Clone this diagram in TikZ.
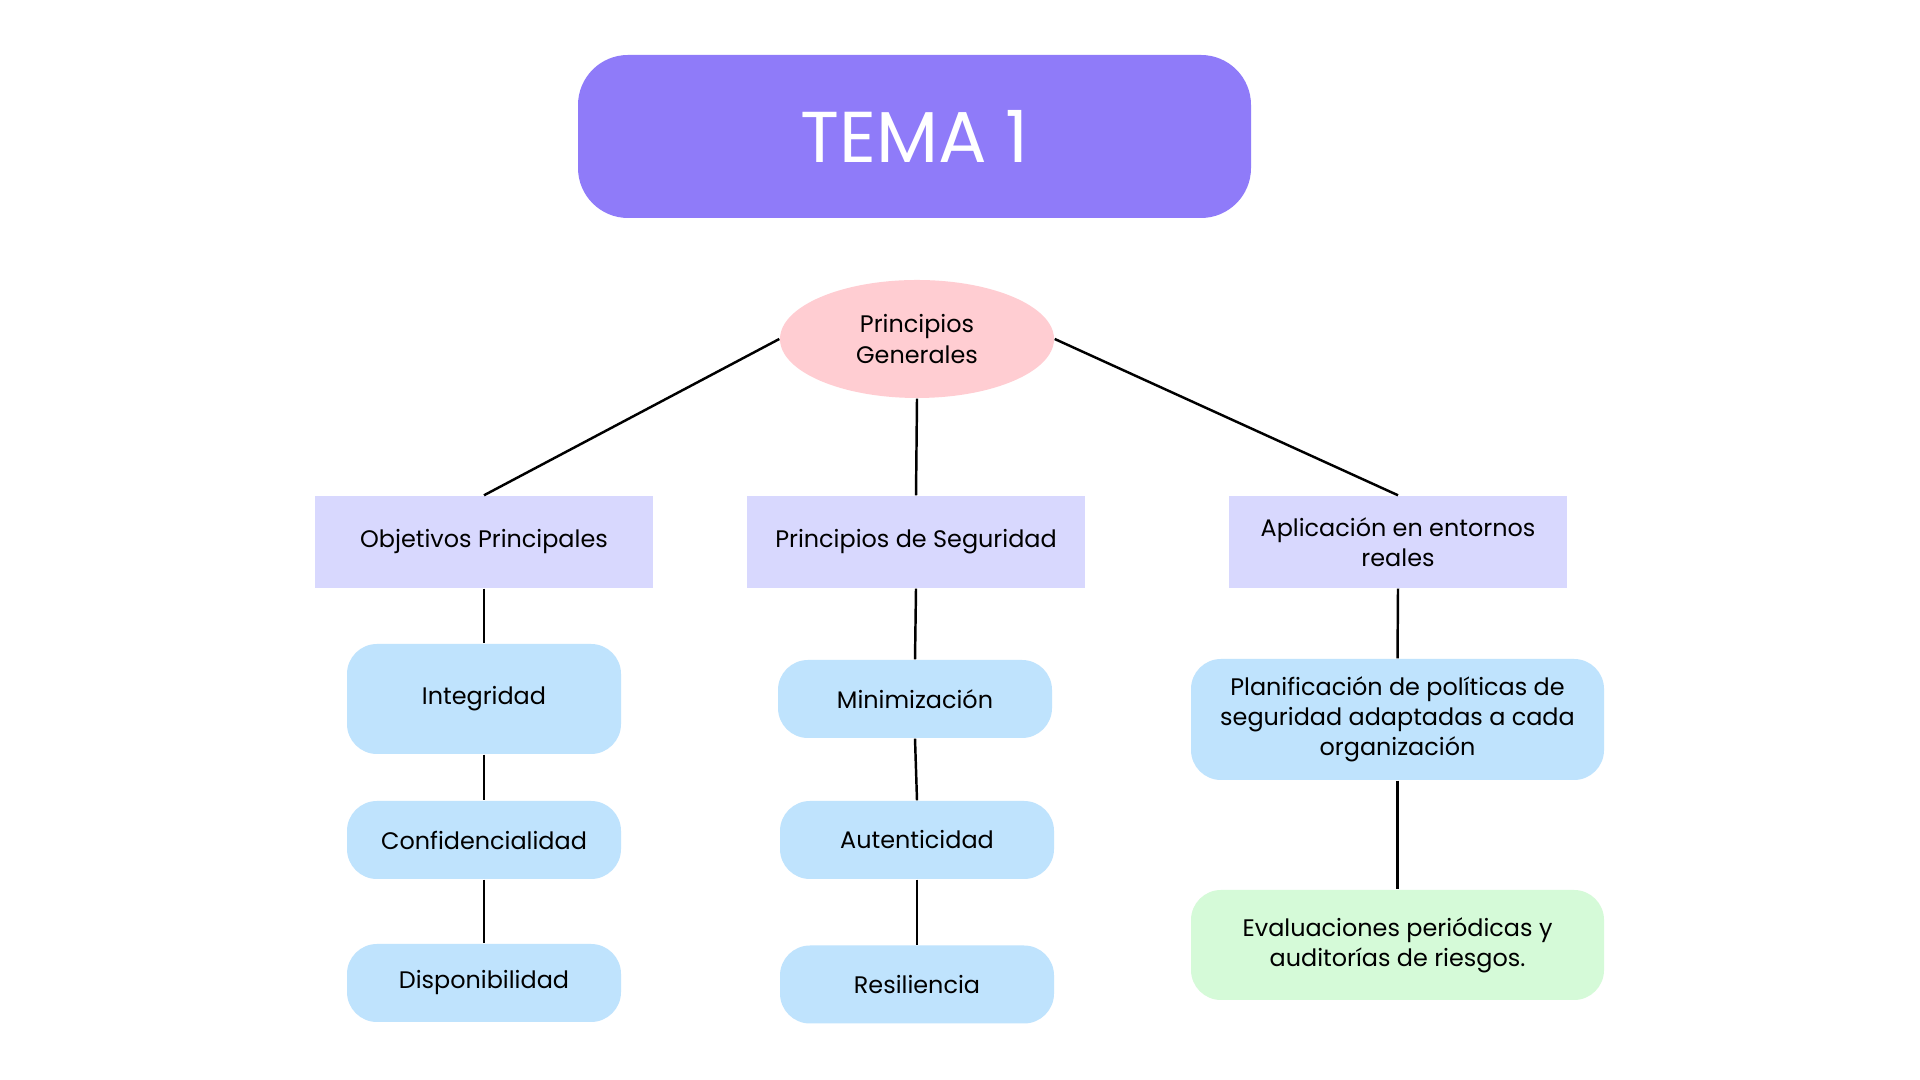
\documentclass[tikz,border=0pt]{standalone}
\usepackage{fontspec}
\setmainfont{Poppins}
\usetikzlibrary{positioning}
\usetikzlibrary{shapes.geometric}
\definecolor{temaviolet}{HTML}{8F7BF9}
\definecolor{pgpink}{HTML}{FFCDD2}
\definecolor{catlav}{HTML}{D8D8FE}
\definecolor{itemblue}{HTML}{BFE3FD}
\definecolor{itemgreen}{HTML}{D5FAD8}

\begin{document}
\begin{tikzpicture}[
  txt/.style={align=center,font=\fontsize{6.8}{8.6}\selectfont,text=black},
  catbox/.style={txt,rectangle,fill=catlav,minimum width=3.38cm,minimum height=0.92cm},
  itembox/.style={txt,rectangle,rounded corners=0.3cm,fill=itemblue,minimum width=2.74cm,minimum height=0.78cm},
  link/.style={black,line width=0.7pt}]
\fill[white] (0,0) rectangle (19.2,10.8);
\useasboundingbox (0,0) rectangle (19.2,10.8);

\node[rectangle,rounded corners=0.5cm,fill=temaviolet,minimum width=6.73cm,minimum height=1.63cm,text=white,font=\fontsize{20.5}{24}\selectfont] (tema) at (9.145,9.435) {TEMA 1};

\node[txt,ellipse,fill=pgpink,minimum width=2.74cm,minimum height=1.18cm,inner sep=0pt] (pg) at (9.17,7.41) {Principios\\Generales};

\node[catbox] (obj) at (4.84,5.38) {Objetivos Principales};
\node[catbox] (seg) at (9.16,5.38) {Principios de Seguridad};
\node[catbox] (apl) at (13.98,5.38) {Aplicación en entornos\\reales};

\node[itembox,minimum height=1.10cm] (integ) at (4.84,3.81) {Integridad};
\node[itembox] (conf) at (4.84,2.40) {Confidencialidad};
\node[itembox] (disp) at (4.84,0.97) {Disponibilidad};

\node[itembox] (mini) at (9.15,3.81) {Minimización};
\node[itembox] (aut) at (9.17,2.40) {Autenticidad};
\node[itembox] (res) at (9.17,0.955) {Resiliencia};

\node[itembox,minimum width=4.13cm,minimum height=1.21cm] (plan) at (13.975,3.605) {Planificación de políticas de\\seguridad adaptadas a cada\\organización};
\node[itembox,fill=itemgreen,minimum width=4.13cm,minimum height=1.10cm] (eval) at (13.975,1.35) {Evaluaciones periódicas y\\auditorías de riesgos.};

\draw[link] (pg.west) -- (obj.north);
\draw[link] (pg.south) -- (seg.north);
\draw[link] (pg.east) -- (apl.north);

\draw[link] (obj.south) -- (integ.north);
\draw[link] (integ.south) -- (conf.north);
\draw[link] (conf.south) -- (disp.north);

\draw[link] (seg.south) -- (mini.north);
\draw[link] (mini.south) -- (aut.north);
\draw[link] (aut.south) -- (res.north);

\draw[link] (apl.south) -- (plan.north);
\draw[link] (plan.south) -- (eval.north);

\end{tikzpicture}
\end{document}
